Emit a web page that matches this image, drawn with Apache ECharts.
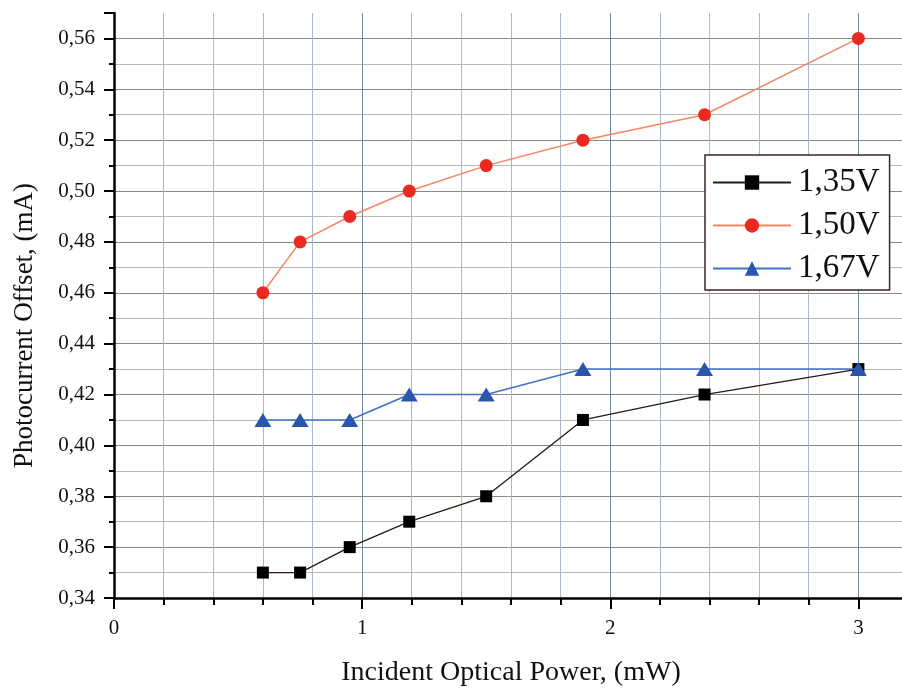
<!DOCTYPE html>
<html>
<head>
<meta charset="utf-8">
<script src="https://cdn.jsdelivr.net/npm/echarts@6/dist/echarts.min.js"></script>
<style>
  html, body { margin: 0; padding: 0; background: #fff; }
  #chart { width: 902px; height: 688px; }
</style>
</head>
<body>
<div id="chart"></div>
<script>
// incident optical power, mW
const power = [0.6, 0.75, 0.95, 1.19, 1.5, 1.89, 2.38, 3.0]
// photocurrent offset, mA
const offset135 = [0.35, 0.35, 0.36, 0.37, 0.38, 0.41, 0.42, 0.43]
const offset150 = [0.46, 0.48, 0.49, 0.50, 0.51, 0.52, 0.53, 0.56]
const offset167 = [0.41, 0.41, 0.41, 0.42, 0.42, 0.43, 0.43, 0.43]
const seriesNames = ['1,35V', '1,50V', '1,67V']
const xTickLabels = ['0', '1', '2', '3']

const serif = '"Liberation Serif", "DejaVu Serif", serif'

function pairs(ys) {
  return power.map((x, i) => [x, ys[i]])
}

const chart = echarts.init(document.getElementById('chart'))

chart.setOption({
  animation: false,
  backgroundColor: '#fff',
  textStyle: { fontFamily: serif, color: '#111' },
  // plot runs past the right edge of the picture (cropped at ~3.18 mW)
  grid: { left: 114, width: 794, top: 13, bottom: 90, containLabel: false, outerBoundsMode: 'none' },
  legend: {
    orient: 'vertical',
    left: 705,
    top: 155,
    padding: [11, 10, 5, 7],
    itemWidth: 78,
    itemHeight: 18,
    itemGap: 10,
    backgroundColor: '#fff',
    borderColor: '#3a2424',
    borderWidth: 1.5,
    borderRadius: 0,
    textStyle: { fontFamily: serif, fontSize: 33, color: '#111', padding: [0, 0, 0, 2] },
    data: seriesNames
  },
  xAxis: [{
    type: 'value',
    position: 'bottom',
    min: 0,
    max: 3.2,
    interval: 0.2,
    name: 'Incident Optical Power, (mW)',
    nameLocation: 'middle',
    nameGap: 61,
    nameTextStyle: { fontFamily: serif, fontSize: 28, color: '#111' },
    axisLine: { onZero: false, lineStyle: { color: '#000', width: 2.5 } },
    axisTick: { length: 7, lineStyle: { color: '#000', width: 2 } },
    axisLabel: {
      margin: 20,
      fontFamily: serif,
      fontSize: 21,
      color: '#111',
      formatter: v => {
        const k = Math.round(v)
        return Math.abs(v - k) < 1e-6 ? xTickLabels[k] || '' : ''
      }
    },
    splitLine: {
      show: true,
      showMaxLine: false,
      lineStyle: {
        color: ['#6f8aa0', '#a9b8c6', '#a9b8c6', '#a9b8c6', '#a9b8c6'],
        width: 1
      }
    }
  }, {
    // longer ticks at the whole numbers
    type: 'value',
    position: 'bottom',
    min: 0,
    max: 3.2,
    interval: 1,
    axisLine: { show: false, onZero: false },
    axisTick: { length: 11, lineStyle: { color: '#000', width: 2 } },
    axisLabel: { show: false },
    splitLine: { show: false }
  }],
  yAxis: [{
    type: 'value',
    position: 'left',
    min: 0.34,
    max: 0.57,
    interval: 0.01,
    name: 'Photocurrent Offset, (mA)',
    nameLocation: 'middle',
    nameGap: 76,
    nameTextStyle: { fontFamily: serif, fontSize: 27, color: '#111', padding: [0, 40, 0, 0] },
    axisLine: { onZero: false, lineStyle: { color: '#000', width: 2.5 } },
    axisTick: { length: 5, lineStyle: { color: '#000', width: 2 } },
    axisLabel: {
      margin: 19,
      fontFamily: serif,
      fontSize: 21,
      color: '#111',
      formatter: v => {
        const n = Math.round(v * 100)
        return n % 2 === 0 ? (n / 100).toFixed(2).replace('.', ',') : ''
      }
    },
    splitLine: {
      show: true,
      showMaxLine: false,
      lineStyle: { color: ['#8a8a8a', '#b8b8b8'], width: 1 }
    }
  }, {
    // longer ticks at the labelled values
    type: 'value',
    position: 'left',
    min: 0.34,
    max: 0.57,
    interval: 0.02,
    axisLine: { show: false, onZero: false },
    axisTick: { length: 10, lineStyle: { color: '#000', width: 2 } },
    axisLabel: { show: false },
    splitLine: { show: false }
  }],
  series: [{
    name: seriesNames[0],
    type: 'line',
    data: pairs(offset135),
    symbol: 'rect',
    symbolSize: 12,
    lineStyle: { color: '#2a1814', width: 1.3 },
    itemStyle: { color: '#000' },
    z: 3
  }, {
    name: seriesNames[1],
    type: 'line',
    data: pairs(offset150),
    symbol: 'circle',
    symbolSize: 13,
    lineStyle: { color: '#f58664', width: 1.5 },
    itemStyle: { color: '#ea2a20' },
    z: 3
  }, {
    name: seriesNames[2],
    type: 'line',
    data: pairs(offset167),
    symbol: 'triangle',
    symbolSize: [17, 14],
    lineStyle: { color: '#3f72c9', width: 1.5 },
    itemStyle: { color: '#2c56ad' },
    z: 4
  }]
})
</script>
</body>
</html>
